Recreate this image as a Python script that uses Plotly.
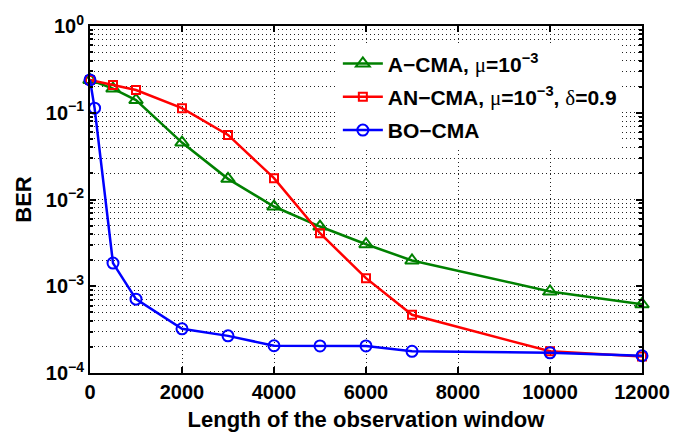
import plotly.graph_objects as go

x_a = [0, 500, 1000, 2000, 3000, 4000, 5000, 6000, 7000, 10000, 12000]
ber_a = [0.239, 0.19, 0.14, 0.0453, 0.0173, 0.0083, 0.00488, 0.00305, 0.00198, 0.00087, 0.00062]

x_an = [0, 500, 1000, 2000, 3000, 4000, 5000, 6000, 7000, 10000, 12000]
ber_an = [0.239, 0.209, 0.183, 0.113, 0.0555, 0.0176, 0.00409, 0.00124, 0.000469, 0.000178, 0.000155]

x_bo = [0, 100, 500, 1000, 2000, 3000, 4000, 5000, 6000, 7000, 10000, 12000]
ber_bo = [0.239, 0.113, 0.00185, 0.00071, 0.000323, 0.000268, 0.000206, 0.000205, 0.000205, 0.000178, 0.000171, 0.000158]

x_ticks = [0, 2000, 4000, 6000, 8000, 10000, 12000]
y_tickvals = [1e-4, 1e-3, 1e-2, 1e-1, 1]
y_ticktext = ["10<sup>\u22124</sup>", "10<sup>\u22123</sup>", "10<sup>\u22122</sup>",
              "10<sup>\u22121</sup>", "10<sup>0</sup>"]
y_minor = [m * d for d in [1e-4, 1e-3, 1e-2, 1e-1] for m in range(2, 10)]

names = [
    "A\u2212CMA, <span style='font-weight:normal;font-family:serif'>\u03bc</span>=10<sup>\u22123</sup>",
    "AN\u2212CMA, <span style='font-weight:normal;font-family:serif'>\u03bc</span>=10<sup>\u22123</sup>, <span style='font-weight:normal;font-family:serif'>\u03b4</span>=0.9",
    "BO\u2212CMA",
]

font = "Liberation Sans, Arial, sans-serif"
grid_dash = "1px,3px"

fig = go.Figure()
fig.add_trace(go.Scatter(x=x_a, y=ber_a, mode="lines+markers", name=names[0], legendgroup="a",
                         line=dict(color="#008000", width=2.5),
                         marker=dict(symbol="triangle-up-open", size=12, color="#008000",
                                     line=dict(width=2, color="#008000")),
                         cliponaxis=False))
fig.add_trace(go.Scatter(x=x_an, y=ber_an, mode="lines+markers", name=names[1], legendgroup="b",
                         line=dict(color="#ff0000", width=2.5),
                         marker=dict(symbol="square-open", size=8, color="#ff0000",
                                     line=dict(width=2, color="#ff0000")),
                         cliponaxis=False))
fig.add_trace(go.Scatter(x=x_bo, y=ber_bo, mode="lines+markers", name=names[2], legendgroup="c",
                         line=dict(color="#0000ff", width=2.5),
                         marker=dict(symbol="circle-open", size=11, color="#0000ff",
                                     line=dict(width=2, color="#0000ff")),
                         cliponaxis=False))

fig.update_layout(
    width=687, height=433,
    margin=dict(l=90, r=45, t=26, b=60),
    paper_bgcolor="white", plot_bgcolor="white",
    font=dict(family=font, size=20, color="black", weight="bold"),
    showlegend=True,
    legend=dict(x=0.449, y=0.95, xanchor="left", yanchor="top",
                bgcolor="white", borderwidth=0,
                font=dict(family=font, size=21, color="black", weight="bold"),
                itemwidth=40, tracegroupgap=3),
)
fig.update_xaxes(
    range=[0, 12000], tickvals=x_ticks, ticktext=[str(v) for v in x_ticks],
    automargin=False,
    showline=True, linecolor="black", linewidth=2, mirror="ticks",
    ticks="inside", ticklen=6, tickwidth=1.5, tickcolor="black",
    showgrid=True, gridcolor="#222222", griddash=grid_dash, gridwidth=1,
    zeroline=False,
    tickfont=dict(family=font, size=20, color="black", weight="bold"),
    title=dict(text="Length of the observation window", standoff=10,
               font=dict(family=font, size=22, color="black", weight="bold")),
)
fig.update_yaxes(
    type="log", range=[-4, 0], tickvals=y_tickvals, ticktext=y_ticktext,
    automargin=False,
    showline=True, linecolor="black", linewidth=2, mirror="ticks",
    ticks="inside", ticklen=6, tickwidth=1.5, tickcolor="black",
    showgrid=True, gridcolor="#222222", griddash=grid_dash, gridwidth=1,
    minor=dict(tickmode="array", tickvals=y_minor, ticks="inside", ticklen=3,
               tickcolor="black", showgrid=True,
               gridcolor="#222222", griddash=grid_dash, gridwidth=1),
    zeroline=False,
    tickfont=dict(family=font, size=20, color="black", weight="bold"),
    title=dict(text="BER", standoff=8,
               font=dict(family=font, size=22, color="black", weight="bold")),
)

fig.write_html("out.html", config={"displayModeBar": False},
               post_script="document.body.style.margin='0px';document.body.style.overflow='hidden';")
